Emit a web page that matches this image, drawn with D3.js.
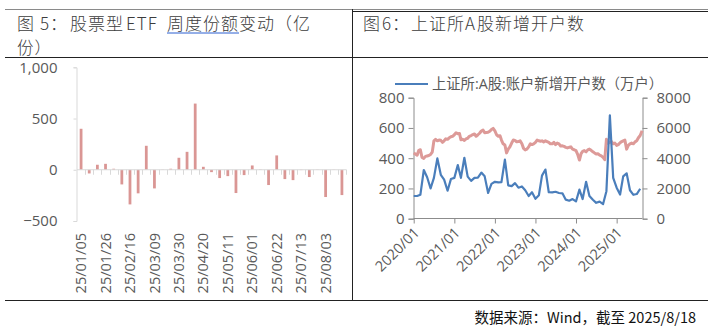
<!DOCTYPE html>
<html><head><meta charset="utf-8">
<script src="https://cdn.jsdelivr.net/npm/d3@7"></script>
<style>
body{margin:0;background:#fff}
svg{display:block}
text{font-family:"Open Sans","Noto Sans CJK SC",sans-serif}
.ttl{font-family:"Noto Sans CJK SC",sans-serif;font-weight:300;fill:#3c3c3c;letter-spacing:1px}
</style>
</head><body>
<svg id="c" width="713" height="328"></svg>
<script>
// ---------- data ----------
const weekLabels = ["25/01/05","25/01/12","25/01/19","25/01/26","25/02/02","25/02/09","25/02/16","25/02/23",
 "25/03/02","25/03/09","25/03/16","25/03/23","25/03/30","25/04/06","25/04/13","25/04/20","25/04/27",
 "25/05/04","25/05/11","25/05/18","25/05/25","25/06/01","25/06/08","25/06/15","25/06/22","25/06/29",
 "25/07/06","25/07/13","25/07/20","25/07/27","25/08/03","25/08/10","25/08/17"];
const etfShareChange = [400,-36,49,58,10,-143,-338,-230,234,-182,2,10,117,175,646,29,
 -23,-81,-62,-227,-52,42,3,-149,140,-91,-101,-3,-71,2,-266,-2,-247];
const leftYTicks = [-500,0,500,1000];

// SSE monthly new A-share accounts (万户), 2020/01 - 2025/08
const newAccounts = [150,150,158,322,274,200,270,399,290,258,
 185,262,270,355,270,403,278,250,270,272,
 305,280,170,230,244,240,242,390,220,215,
 235,205,213,188,150,175,132,155,285,325,
 175,174,178,170,168,126,119,130,114,192,
 130,244,150,125,105,113,97,182,684,270,
 205,160,280,300,188,158,163,198];
// index level (right axis), sampled on the 1st and 16th of each month from 2020/01, last point 2025/08/18
const indexLevel = [
 4350,4280,4200,4520,4560,4050,3990,4120,4150,4180,4250,4400,5150,5250,5150,5200,5180,5050,5150,5280,5250,5350,5420,5450,
 5550,5680,5620,5640,5220,5250,5180,5280,5320,5450,5500,5560,5600,5450,5550,5650,5800,5860,5680,5700,5720,5780,5900,5970,
 5800,5550,5450,5480,5200,4950,4870,4350,4600,4750,5000,5200,5180,5080,5100,5150,4950,4650,4550,4600,4750,4950,4900,4950,
 5050,5200,5150,5120,5150,5080,5150,5100,5050,4950,4950,5050,4900,5000,4950,4800,4820,4780,4720,4680,4720,4750,4600,4560,
 4500,4250,3880,4300,4450,4500,4420,4550,4600,4520,4430,4350,4280,4300,4200,4150,4050,3900,5250,5000,5050,5100,4950,5000,
 4850,4900,5020,5100,5150,5200,4600,4850,4950,5000,4950,5080,5150,5350,5500,5820];
const rightXLabels = ["2020/01","2021/01","2022/01","2023/01","2024/01","2025/01"];
const rightYTicks = [0,200,400,600,800];
const rightY2Ticks = [0,2000,4000,6000,8000];
const legendLabel = "上证所:A股:账户新增开户数（万户）";

// ---------- frame ----------
const svg = d3.select("#c");
svg.append("rect").attr("width",713).attr("height",328).attr("fill","#fff");
svg.append("line").attr("x1",5).attr("x2",708).attr("y1",9.5).attr("y2",9.5).attr("stroke","#8a8a8a");
svg.append("line").attr("x1",352).attr("x2",708).attr("y1",11.5).attr("y2",11.5).attr("stroke","#222");
svg.append("line").attr("x1",5).attr("x2",708).attr("y1",57.5).attr("y2",57.5).attr("stroke","#222");
svg.append("line").attr("x1",352.5).attr("x2",352.5).attr("y1",9).attr("y2",300).attr("stroke","#222");
svg.append("line").attr("x1",5).attr("x2",708).attr("y1",300.5).attr("y2",300.5).attr("stroke","#222");

// titles (pieces placed to mimic the wide half-width spacing of the original font)
function ttl(x,y,s,fs){ return svg.append("text").attr("class","ttl").attr("x",x).attr("y",y).attr("font-size",fs||17).text(s); }
ttl(17,30,"图"); ttl(40,30,"5："); ttl(70,30,"股票型"); ttl(126,30,"ETF");
ttl(167,30,"周度份额");
ttl(239,30,"变动（亿");
svg.append("line").attr("x1",167).attr("x2",239).attr("y1",33).attr("y2",33).attr("stroke","#2b5fd0").attr("stroke-width",1);
ttl(17,53.5,"份）",16.5);
ttl(363,30,"图"); ttl(382,30,"6："); ttl(411,30,"上证所"); ttl(465,30,"A"); ttl(477,30,"股新增开户数");

// footer
svg.append("text").attr("x",696).attr("y",323).attr("font-size",14.5)
  .attr("text-anchor","end").attr("fill","#111").style("font-family","'Noto Sans CJK SC',sans-serif").text("数据来源：Wind，截至 2025/8/18");

// ---------- left chart ----------
const xL = d3.scaleBand().domain(d3.range(etfShareChange.length)).range([77,346]).paddingInner(0.66).paddingOuter(0.33);
const yL = d3.scaleLinear().domain([-500,1000]).range([221,67.3]);
const gL = svg.append("g");
const axL = gL.append("g").attr("transform","translate(76.5,0)")
  .call(d3.axisLeft(yL).tickValues(leftYTicks).tickSize(3).tickPadding(16).tickFormat(d3.format(",")));
axL.selectAll("path,line").attr("stroke","#d9d9d9");
axL.selectAll("text").attr("font-size",15).attr("fill","#595959");
// bars
gL.selectAll("rect.bar").data(etfShareChange).join("rect").attr("class","bar")
  .attr("x",(d,i)=>xL(i)).attr("width",xL.bandwidth())
  .attr("y",d=>yL(Math.max(0,d))).attr("height",d=>Math.abs(yL(d)-yL(0)))
  .attr("fill","#da9694");
// zero line + category ticks
gL.append("line").attr("x1",77).attr("x2",346.5).attr("y1",yL(0)).attr("y2",yL(0)).attr("stroke","#d9d9d9").attr("stroke-width",1.2);
const stepW = 269/etfShareChange.length;
gL.selectAll("line.ct").data(d3.range(1,etfShareChange.length+1)).join("line").attr("class","ct")
  .attr("x1",i=>Math.round(77+stepW*i)+0.5).attr("x2",i=>Math.round(77+stepW*i)+0.5)
  .attr("y1",yL(0)).attr("y2",yL(0)+5).attr("stroke","#d9d9d9");
// x labels every 3rd week
gL.selectAll("text.xl").data(weekLabels.map((l,i)=>({l,i})).filter(d=>d.i%3===0)).join("text").attr("class","xl")
  .attr("transform",d=>`translate(${xL(d.i)+xL.bandwidth()/2},233) rotate(-90)`)
  .attr("text-anchor","end").attr("dy","0.35em").attr("font-size",14.5).attr("fill","#595959").text(d=>d.l);

// ---------- right chart ----------
const t0 = new Date(2020,0,1), t1 = new Date(2025,7,20);
const xR = d3.scaleTime().domain([t0,t1]).range([413.7,642.3]);
const yR = d3.scaleLinear().domain([0,800]).range([218.7,97.7]);
const yR2 = d3.scaleLinear().domain([0,8000]).range([218.7,97.7]);
const gR = svg.append("g");
const axC = "#8c8c8c";
const a1 = gR.append("g").attr("transform","translate(413.5,0)")
  .call(d3.axisLeft(yR).tickValues(rightYTicks).tickSize(5).tickPadding(4));
const a2 = gR.append("g").attr("transform","translate(642.5,0)")
  .call(d3.axisRight(yR2).tickValues(rightY2Ticks).tickSize(5).tickPadding(9).tickFormat(d3.format("d")));
const xTickDates = rightXLabels.map(s=>{const [y,m]=s.split("/");return new Date(+y,+m-1,1);});
const a3 = gR.append("g").attr("transform","translate(0,218.5)")
  .call(d3.axisBottom(xR).tickValues(xTickDates).tickSize(5).tickFormat(""));
a3.select("path.domain").attr("d","M413.7,0H642.3");
[a1,a2,a3].forEach(a=>{a.selectAll("path,line").attr("stroke",axC);a.selectAll("text").attr("font-size",15).attr("fill","#595959");});
gR.selectAll("text.rx").data(rightXLabels).join("text").attr("class","rx")
  .attr("transform",(d,i)=>`translate(${xR(xTickDates[i])+3},230) rotate(-45)`)
  .attr("text-anchor","end").attr("dy","0.35em").attr("font-size",14.5).attr("fill","#595959").text(d=>d);

// index line (red)
const idxDates = indexLevel.map((v,i)=> i===indexLevel.length-1 ? new Date(2025,7,18) : new Date(2020, Math.floor(i/2), i%2 ? 16 : 1));
gR.append("path").datum(indexLevel).attr("fill","none").attr("stroke","#dd9a98").attr("stroke-width",3)
  .attr("stroke-linejoin","round")
  .attr("d",d3.line().x((d,i)=>xR(idxDates[i])).y(d=>yR2(d)));
// accounts line (blue)
const accDates = newAccounts.map((v,i)=>new Date(2020,i,1));
gR.append("path").datum(newAccounts).attr("fill","none").attr("stroke","#4a7ebb").attr("stroke-width",2.2)
  .attr("stroke-linejoin","round")
  .attr("d",d3.line().x((d,i)=>xR(accDates[i])).y(d=>yR(d)));

// legend
gR.append("line").attr("x1",395).attr("x2",428).attr("y1",84).attr("y2",84).attr("stroke","#4a7ebb").attr("stroke-width",2.2);
gR.append("text").attr("x",432).attr("y",88.5).attr("font-size",14.3).attr("fill","#595959").text(legendLabel);
</script>
</body></html>
